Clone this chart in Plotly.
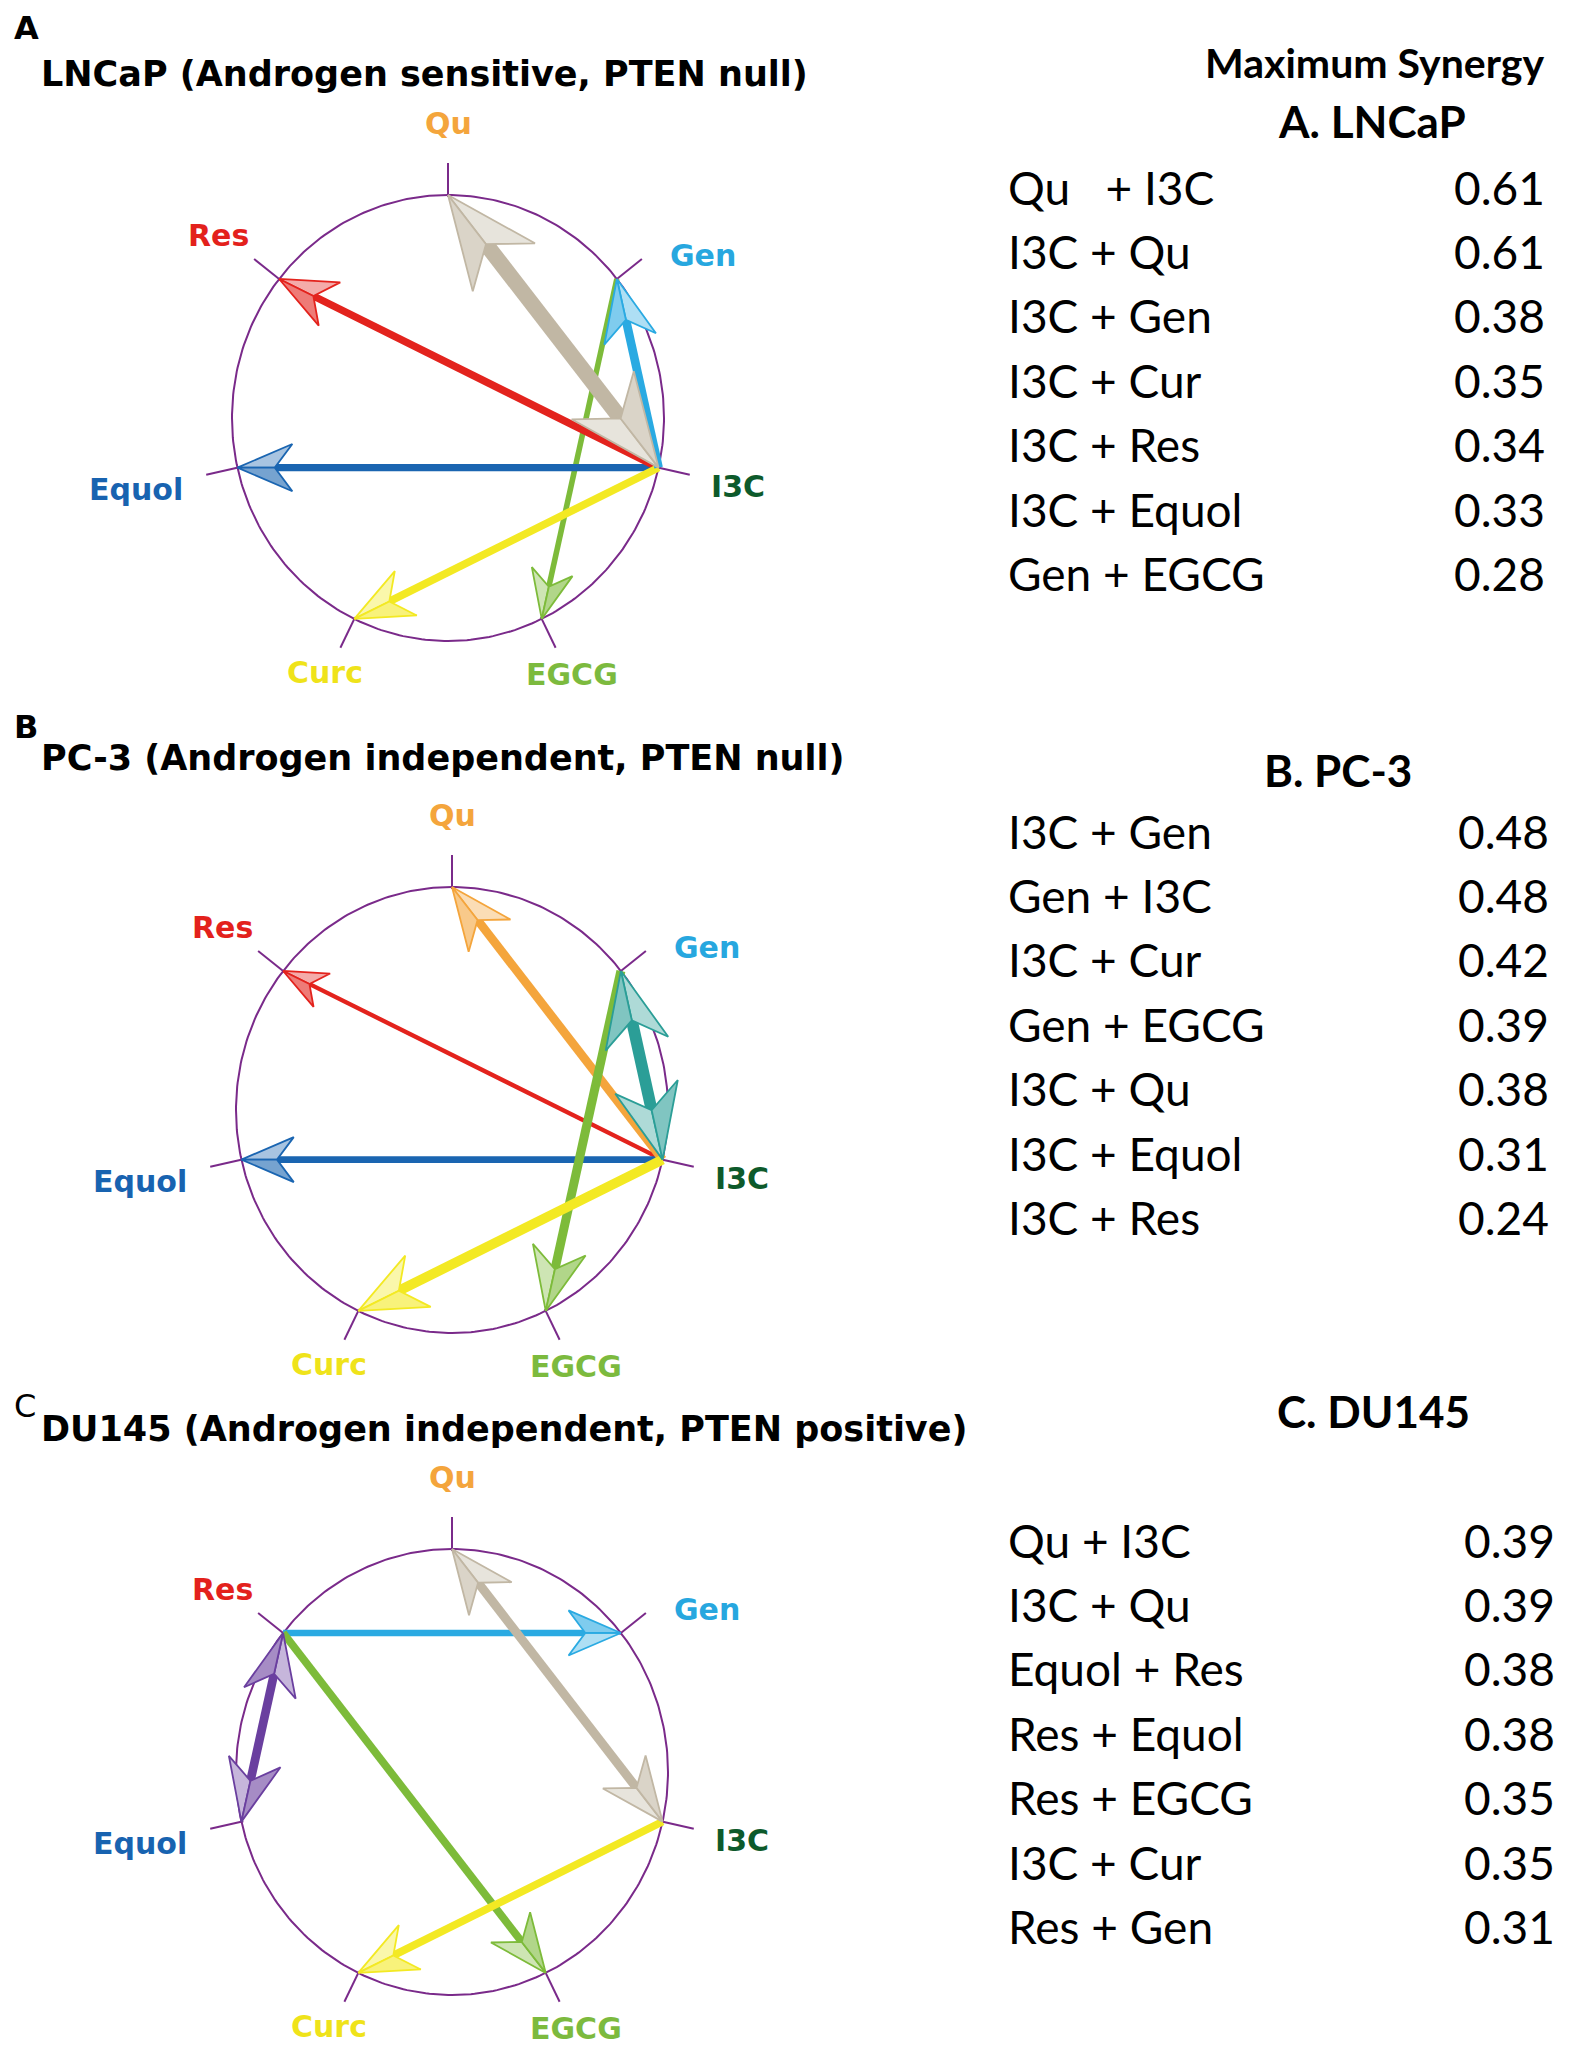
import math
import plotly.graph_objects as go

W, H = 1575, 2046
PAGE_PAD = 8  # default body margin of the html page

# nodes placed clockwise round the circle starting at the top
NODES = ["Qu", "Gen", "I3C", "EGCG", "Curc", "Equol", "Res"]
NODE_ALIAS = {"Cur": "Curc"}
NODE_COLORS = {
    "Qu": "#f4a53c", "Gen": "#27a7df", "I3C": "#0d5a2b", "EGCG": "#7cba3e",
    "Curc": "#efe31a", "Equol": "#1863b0", "Res": "#e3211c",
}
ARROW_COLORS = {
    "Qu": "#f4a53c", "Gen": "#2aaae2", "EGCG": "#7dbb3a", "Curc": "#f3e923",
    "Equol": "#1a65b1", "Res": "#e3231d",
}
# two-way pairs get their own colour
PAIR_COLORS = {("I3C", "Qu"): "#c1b7a4", ("Gen", "I3C"): "#2b9e97", ("Equol", "Res"): "#6a3f9f"}

PANEL_LETTERS = ["A", "B", "C"]
PANEL_TITLES = [
    "LNCaP (Androgen sensitive, PTEN null)",
    "PC-3 (Androgen independent, PTEN null)",
    "DU145 (Androgen independent, PTEN positive)",
]
TABLE_HEADINGS = ["A. LNCaP", "B. PC-3", "C. DU145"]

lncap_pairs = ["Qu   + I3C", "I3C + Qu", "I3C + Gen", "I3C + Cur", "I3C + Res", "I3C + Equol", "Gen + EGCG"]
lncap_values = [0.61, 0.61, 0.38, 0.35, 0.34, 0.33, 0.28]
pc3_pairs = ["I3C + Gen", "Gen + I3C", "I3C + Cur", "Gen + EGCG", "I3C + Qu", "I3C + Equol", "I3C + Res"]
pc3_values = [0.48, 0.48, 0.42, 0.39, 0.38, 0.31, 0.24]
du145_pairs = ["Qu + I3C", "I3C + Qu", "Equol + Res", "Res + Equol", "Res + EGCG", "I3C + Cur", "Res + Gen"]
du145_values = [0.39, 0.39, 0.38, 0.38, 0.35, 0.35, 0.31]

PANEL_PAIRS = [lncap_pairs, pc3_pairs, du145_pairs]
PANEL_VALUES = [lncap_values, pc3_values, du145_values]

# layout (pixels of the page)
CENTERS = [(448, 418), (452, 1110), (452, 1772)]
RX, RY = 216, 223
LETTER_Y = [28, 727, 1406]
TITLE_Y = [74, 758, 1429]
HEAD_POS = [(1372, 121), (1338, 770), (1373, 1411)]
ROW_Y0 = [187, 831, 1540]
ROW_STEP = 64.4
NAME_X = 1006
VALUE_X = [1452, 1456, 1462]
LABEL_R = {"Qu": 295, "Gen": 300, "I3C": 310, "EGCG": 285, "Curc": 283, "Equol": 320, "Res": 293}
LABEL_NUDGE = {"Gen": (20, 25), "I3C": (-12, 0)}

CIRCLE_COLOR = "#7a2a8a"
LABEL_FONT = "DejaVu Sans"
TABLE_FONT = "Lato"


def node_angle(name):
    return math.radians(90 - 360 / 7 * NODES.index(name))


def node_xy(c, name, rx=RX, ry=RY):
    a = node_angle(name)
    return c[0] + rx * math.cos(a), c[1] - ry * math.sin(a)


def tint(hex_color, k):
    r, g, b = (int(hex_color[i:i + 2], 16) for i in (1, 3, 5))
    r, g, b = (round(v + (255 - v) * k) for v in (r, g, b))
    return f"rgb({r},{g},{b})"


def parse_pair(txt):
    a, b = [s.strip() for s in txt.split("+")]
    return NODE_ALIAS.get(a, a), NODE_ALIAS.get(b, b)


def shaft_width(v):
    return 31 * (v - 0.10)


def head_len(w):
    return 25 + 4.2 * w


fig = go.Figure()
annotations = []


def add_head(tip, u, w, color):
    L = head_len(w)
    hw = 0.43 * L
    notch = 0.68 * L
    n = (-u[1], u[0])
    base = (tip[0] - L * u[0], tip[1] - L * u[1])
    b1 = (base[0] + hw * n[0], base[1] + hw * n[1])
    b2 = (base[0] - hw * n[0], base[1] - hw * n[1])
    nt = (tip[0] - notch * u[0], tip[1] - notch * u[1])
    for barb, k in ((b1, 0.62), (b2, 0.4)):
        pts = [tip, barb, nt, tip]
        fig.add_trace(go.Scatter(
            x=[q[0] for q in pts], y=[q[1] for q in pts], mode="lines",
            fill="toself", fillcolor=tint(color, k),
            line=dict(color=color, width=1.8), hoverinfo="skip", showlegend=False,
        ))


for p in range(3):
    c = CENTERS[p]

    # circle and node ticks
    ts = [i / 180 * math.pi for i in range(361)]
    fig.add_trace(go.Scatter(
        x=[c[0] + RX * math.cos(t) for t in ts], y=[c[1] - RY * math.sin(t) for t in ts],
        mode="lines", line=dict(color=CIRCLE_COLOR, width=2), hoverinfo="skip", showlegend=False,
    ))
    tx, ty = [], []
    for nm in NODES:
        x0, y0 = node_xy(c, nm, RX - 2, RY - 2)
        x1, y1 = node_xy(c, nm, RX + 32, RY + 32)
        tx += [x0, x1, None]
        ty += [y0, y1, None]
    fig.add_trace(go.Scatter(x=tx, y=ty, mode="lines", line=dict(color=CIRCLE_COLOR, width=2),
                             hoverinfo="skip", showlegend=False))

    # arrows from the table, weakest first so strong ones sit on top
    pairs = [parse_pair(t) for t in PANEL_PAIRS[p]]
    vals = PANEL_VALUES[p]
    arrows = []
    for (a, b), v in zip(pairs, vals):
        if any(x[0] == b and x[1] == a for x in arrows):
            continue
        arrows.append((a, b, v, (b, a) in pairs))
    arrows.sort(key=lambda x: x[2])
    for a, b, v, both in arrows:
        w = shaft_width(v)
        color = PAIR_COLORS[tuple(sorted((a, b)))] if both else ARROW_COLORS[b]
        s = node_xy(c, a)
        t = node_xy(c, b)
        d = math.hypot(t[0] - s[0], t[1] - s[1])
        u = ((t[0] - s[0]) / d, (t[1] - s[1]) / d)
        L = head_len(w)
        e0 = 0.62 * L if both else 0
        e1 = 0.62 * L
        fig.add_trace(go.Scatter(
            x=[s[0] + e0 * u[0], t[0] - e1 * u[0]], y=[s[1] + e0 * u[1], t[1] - e1 * u[1]],
            mode="lines", line=dict(color=color, width=w), hoverinfo="skip", showlegend=False,
        ))
        add_head(t, u, w, color)
        if both:
            add_head(s, (-u[0], -u[1]), w, color)

    # node labels
    for nm in NODES:
        r = LABEL_R[nm]
        lx, ly = node_xy(c, nm, r, r)
        dx, dy = LABEL_NUDGE.get(nm, (0, 0))
        annotations.append(dict(
            x=lx + dx, y=ly + dy, text=nm, showarrow=False, xanchor="center", yanchor="middle",
            font=dict(family=LABEL_FONT, size=30, color=NODE_COLORS[nm], weight="bold"),
        ))

    # panel letter and title
    annotations.append(dict(
        x=12, y=LETTER_Y[p], text=PANEL_LETTERS[p], showarrow=False, xanchor="left", yanchor="middle",
        font=dict(family=LABEL_FONT, size=32, color="black", weight="bold" if p < 2 else "normal"),
    ))
    annotations.append(dict(
        x=39, y=TITLE_Y[p], text=PANEL_TITLES[p], showarrow=False, xanchor="left", yanchor="middle",
        font=dict(family=LABEL_FONT, size=35, color="black", weight="bold"),
    ))

    # table
    hx, hy = HEAD_POS[p]
    annotations.append(dict(
        x=hx, y=hy, text=TABLE_HEADINGS[p], showarrow=False, xanchor="center", yanchor="middle",
        font=dict(family=TABLE_FONT, size=44, color="black", weight="bold"),
    ))
    for i, (txt, v) in enumerate(zip(PANEL_PAIRS[p], vals)):
        y = ROW_Y0[p] + i * ROW_STEP
        annotations.append(dict(
            x=NAME_X, y=y, text=txt.replace(" ", "\u00a0"), showarrow=False, xanchor="left",
            yanchor="middle", font=dict(family=TABLE_FONT, size=46, color="black"),
        ))
        annotations.append(dict(
            x=VALUE_X[p], y=y, text=f"{v:.2f}", showarrow=False, xanchor="left",
            yanchor="middle", font=dict(family=TABLE_FONT, size=46, color="black"),
        ))

annotations.append(dict(
    x=1374, y=62, text="Maximum Synergy", showarrow=False, xanchor="center", yanchor="middle",
    font=dict(family=TABLE_FONT, size=41, color="black", weight="bold"),
))

fig.update_layout(
    width=W, height=H,
    margin=dict(l=0, r=0, t=0, b=0),
    paper_bgcolor="white", plot_bgcolor="white",
    xaxis=dict(range=[PAGE_PAD, W + PAGE_PAD], visible=False, fixedrange=True),
    yaxis=dict(range=[H + PAGE_PAD, PAGE_PAD], visible=False, fixedrange=True),
    annotations=annotations,
    showlegend=False,
)

fig.write_html("out.html")
